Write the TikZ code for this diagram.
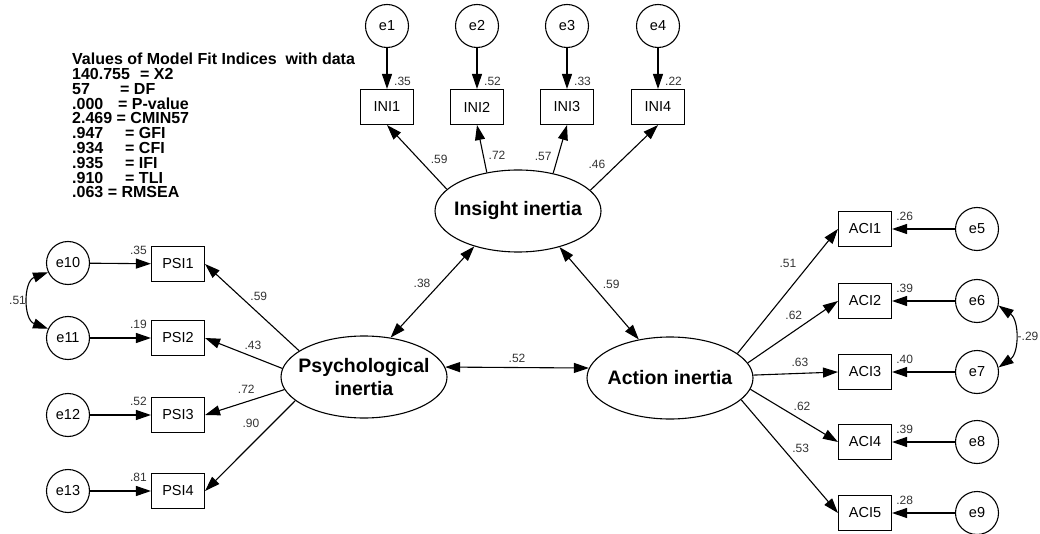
\documentclass[tikz,border=0pt]{standalone}
\usepackage{fontspec}
\setmainfont{Liberation Sans}
\usetikzlibrary{arrows.meta, positioning, shapes.geometric, calc}

\begin{document}
\begin{tikzpicture}[x=1pt, y=-1pt,
  obs/.style={draw, line width=1.1pt, minimum width=53pt, minimum height=35pt,
    inner sep=0pt, font=\fontsize{14.5}{16}\selectfont},
  err/.style={draw, circle, line width=1.1pt, minimum size=43pt, inner sep=0pt,
    font=\fontsize{14.5}{16}\selectfont},
  lat/.style={draw, ellipse, line width=1.1pt, minimum width=166pt, minimum height=82pt,
    inner xsep=-25pt, inner ysep=0pt, align=center,
    font=\fontsize{19.5}{23}\selectfont\bfseries},
  arr/.style={line width=1.1pt, -{Triangle[length=15pt,width=10pt]}},
  cov/.style={line width=1.1pt, {Triangle[length=15pt,width=10pt]}-{Triangle[length=15pt,width=10pt]}},
  est/.style={font=\fontsize{12}{14}\selectfont, inner sep=1pt, text=black!80}]

  \useasboundingbox (0,0) rectangle (1040,534);

  % fit indices
  \node[anchor=north west, align=left, inner sep=0pt,
    font=\fontsize{16}{14.8}\selectfont\bfseries] (fit) at (72,53)
    {Values of Model Fit Indices\ \ with data\\
     \makebox[68pt][l]{140.755}= X2\\
     \makebox[48pt][l]{57}= DF\\
     \makebox[46pt][l]{.000}= P-value\\
     2.469 = CMIN57\\
     \makebox[53pt][l]{.947}= GFI\\
     \makebox[53pt][l]{.934}= CFI\\
     \makebox[53pt][l]{.935}= IFI\\
     \makebox[53pt][l]{.910}= TLI\\
     .063 = RMSEA};

  % latent variables
  \node[lat] (ins) at (518,211) {Insight inertia};
  \node[lat] (psy) at (364,377) {Psychological\\inertia};
  \node[lat] (act) at (670,378) {Action inertia};

  % insight indicators
  \node[err] (e1) at (387,26) {e1};
  \node[err] (e2) at (477,26) {e2};
  \node[err] (e3) at (567,26) {e3};
  \node[err] (e4) at (658,26) {e4};
  \node[obs] (ini1) at (387,107) {INI1};
  \node[obs] (ini2) at (477,107) {INI2};
  \node[obs] (ini3) at (567,107) {INI3};
  \node[obs] (ini4) at (658,107) {INI4};

  % psychological indicators
  \node[obs] (psi1) at (178,264) {PSI1};
  \node[obs] (psi2) at (178,338) {PSI2};
  \node[obs] (psi3) at (178,415) {PSI3};
  \node[obs] (psi4) at (178,491) {PSI4};
  \node[err] (e10) at (68,263) {e10};
  \node[err] (e11) at (68,338) {e11};
  \node[err] (e12) at (68,415) {e12};
  \node[err] (e13) at (68,491) {e13};

  % action indicators
  \node[obs] (aci1) at (865,229) {ACI1};
  \node[obs] (aci2) at (865,301) {ACI2};
  \node[obs] (aci3) at (865,372) {ACI3};
  \node[obs] (aci4) at (865,442) {ACI4};
  \node[obs] (aci5) at (865,513) {ACI5};
  \node[err] (e5) at (977,229) {e5};
  \node[err] (e6) at (977,301) {e6};
  \node[err] (e7) at (977,372) {e7};
  \node[err] (e8) at (977,442) {e8};
  \node[err] (e9) at (977,513) {e9};

  % errors -> indicators
  \draw[arr] (e1) -- (ini1);
  \draw[arr] (e2) -- (ini2);
  \draw[arr] (e3) -- (ini3);
  \draw[arr] (e4) -- (ini4);
  \draw[arr] (e10) -- (psi1);
  \draw[arr] (e11) -- (psi2);
  \draw[arr] (e12) -- (psi3);
  \draw[arr] (e13) -- (psi4);
  \draw[arr] (e5) -- (aci1);
  \draw[arr] (e6) -- (aci2);
  \draw[arr] (e7) -- (aci3);
  \draw[arr] (e8) -- (aci4);
  \draw[arr] (e9) -- (aci5);

  % loadings
  \draw[arr] (ins.163) -- (ini1.south) node[est, pos=.46, right=10pt] {.59};
  \draw[arr] (ins.129) -- (ini2.south) node[est, pos=.37, right=4pt] {.72};
  \draw[arr] (ins.47) -- (ini3.south) node[est, pos=.35, left=5pt] {.57};
  \draw[arr] (ins.16) -- (ini4.south) node[est, pos=.39, left=10pt] {.46};

  \draw[arr] (psy.158) -- (psi1.east) node[est, pos=.63, right=9pt] {.59};
  \draw[arr] (psy.174) -- (psi2.east) node[est, pos=.38, above=6pt] {.43};
  \draw[arr] (psy.189) -- (psi3.east) node[est, pos=.48, above=7pt] {.72};
  \draw[arr] (psy.199) -- (psi4.east) node[est, pos=.25, left=12pt] {.90};

  \draw[arr] (act.20) -- (aci1.west) node[est, pos=.72, left=12pt] {.51};
  \draw[arr] (act.11) -- (aci2.west) node[est, pos=.51, above=10pt] {.62};
  \draw[arr] (act.2) -- (aci3.west) node[est, pos=.55, above=5pt] {.63};
  \draw[arr] (act.-8) -- (aci4.west) node[est, pos=.59, above=8pt] {.62};
  \draw[arr] (act.-17) -- (aci5.west) node[est, pos=.43, right=8pt] {.53};

  % correlations between factors
  \draw[cov] (ins.219) -- (psy.56) node[est, pos=.41, left=8pt] {.38};
  \draw[cov] (ins.-41) -- (act.129) node[est, pos=.4, right=10pt] {.59};
  \draw[cov] (psy.7) -- (act.173) node[est, midway, above=3pt] {.52};

  % error covariances
  \draw[cov] (e10.205) to[bend right=70, looseness=1.2] node[est, left=2pt] {.51} (e11.155);
  \draw[cov] (e6.-12) to[bend left=55, looseness=1.05] node[est, inner sep=0pt, right=3pt] {-.29} (e7.12);

  % squared multiple correlations
  \node[est, anchor=south west] at ($(ini1.north)+(6,-2)$) {.35};
  \node[est, anchor=south west] at ($(ini2.north)+(6,-2)$) {.52};
  \node[est, anchor=south west] at ($(ini3.north)+(6,-2)$) {.33};
  \node[est, anchor=south west] at ($(ini4.north)+(6,-2)$) {.22};
  \node[est, anchor=east] at ($(psi1.north west)+(-3,4)$) {.35};
  \node[est, anchor=east] at ($(psi2.north west)+(-3,4)$) {.19};
  \node[est, anchor=east] at ($(psi3.north west)+(-3,4)$) {.52};
  \node[est, anchor=east] at ($(psi4.north west)+(-3,4)$) {.81};
  \node[est, anchor=west] at ($(aci1.north east)+(3,5)$) {.26};
  \node[est, anchor=west] at ($(aci2.north east)+(3,5)$) {.39};
  \node[est, anchor=west] at ($(aci3.north east)+(3,5)$) {.40};
  \node[est, anchor=west] at ($(aci4.north east)+(3,5)$) {.39};
  \node[est, anchor=west] at ($(aci5.north east)+(3,5)$) {.28};
\end{tikzpicture}
\end{document}
